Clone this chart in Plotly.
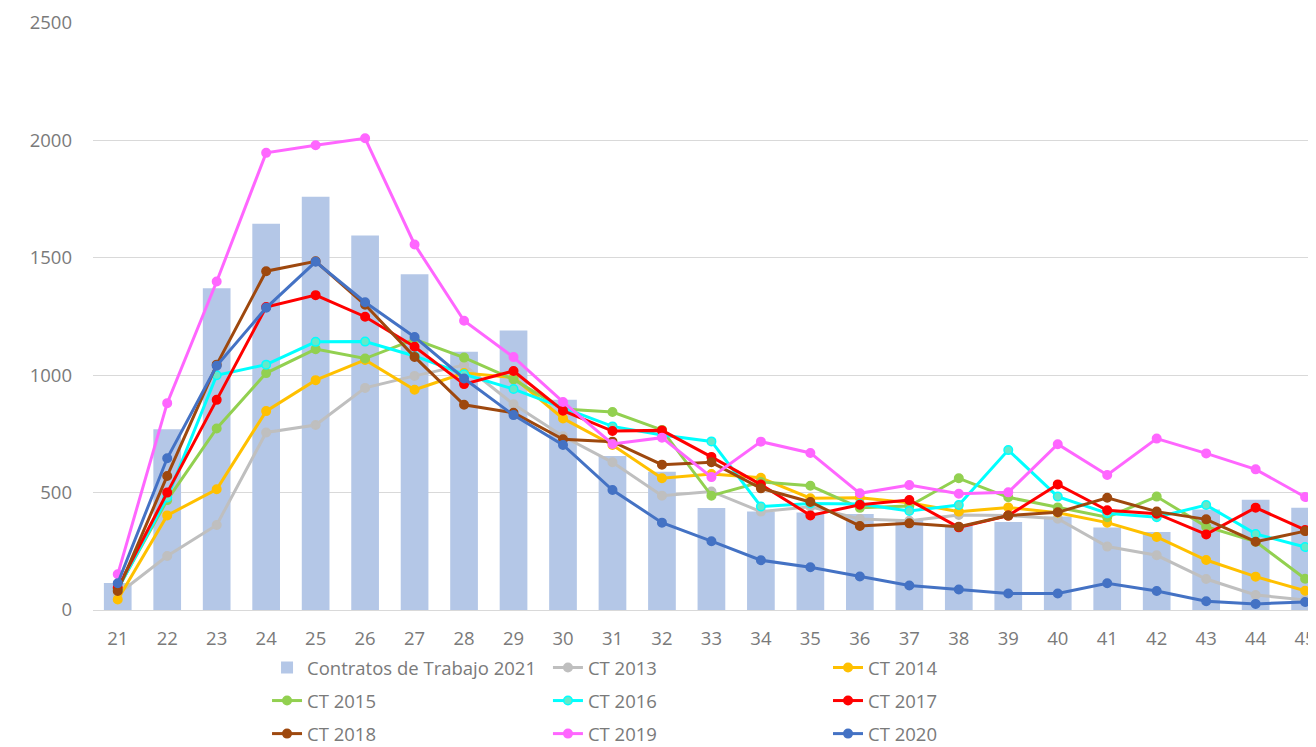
import plotly.graph_objects as go

weeks = [str(w) for w in range(21, 46)]

contratos_2021 = [115, 770, 1370, 1645, 1760, 1595, 1430, 1100, 1190, 895, 656, 589, 434, 419, 415, 409,
                  385, 360, 375, 398, 351, 332, 428, 470, 436]
ct_2013 = [67, 230, 362, 756, 788, 946, 997, 1043, 876, 740, 629, 487, 505, 419, 440, 388,
           380, 405, 402, 389, 270, 233, 132, 64, 43]
ct_2014 = [45, 403, 514, 847, 979, 1065, 938, 1009, 990, 816, 703, 561, 579, 563, 476, 478,
           457, 419, 437, 414, 372, 311, 213, 142, 82]
ct_2015 = [90, 468, 773, 1009, 1111, 1071, 1153, 1075, 982, 856, 843, 767, 487, 545, 529, 435,
           443, 561, 480, 437, 395, 483, 355, 291, 133]
ct_2016 = [88, 479, 1000, 1045, 1142, 1143, 1082, 1004, 941, 860, 782, 745, 718, 441, 454, 451,
           422, 447, 681, 483, 412, 395, 447, 324, 268]
ct_2017 = [95, 500, 895, 1290, 1341, 1249, 1121, 962, 1018, 849, 762, 765, 652, 534, 403, 448,
           468, 352, 402, 535, 425, 410, 322, 436, 341]
ct_2018 = [81, 571, 1045, 1443, 1485, 1300, 1078, 874, 840, 727, 717, 619, 629, 518, 460, 358,
           369, 355, 402, 416, 478, 419, 386, 291, 336]
ct_2019 = [152, 881, 1399, 1947, 1979, 2009, 1557, 1232, 1077, 886, 707, 734, 566, 717, 669, 497,
           532, 495, 501, 706, 575, 730, 667, 599, 481]
ct_2020 = [114, 646, 1040, 1287, 1483, 1311, 1163, 986, 830, 703, 511, 372, 293, 212, 182, 143,
           104, 87, 70, 70, 114, 81, 37, 26, 34]

bar_name = "Contratos de Trabajo 2021"
bar_color = "#B4C7E7"

# name, values, line colour, marker fill, legend column
line_series = [
    ("CT 2013", ct_2013, "#BFBFBF", "#BFBFBF", "legend2"),
    ("CT 2014", ct_2014, "#FFC000", "#FFC000", "legend3"),
    ("CT 2015", ct_2015, "#92D050", "#92D050", "legend"),
    ("CT 2016", ct_2016, "#00FFFF", "#66E8C8", "legend2"),
    ("CT 2017", ct_2017, "#FF0000", "#FF0000", "legend3"),
    ("CT 2018", ct_2018, "#9E480E", "#9E480E", "legend"),
    ("CT 2019", ct_2019, "#FF66FF", "#FF66FF", "legend2"),
    ("CT 2020", ct_2020, "#4472C4", "#4472C4", "legend3"),
]

TEXT_GRAY = "#7A7A7A"

fig = go.Figure()
fig.add_trace(go.Bar(x=weeks, y=contratos_2021, name=bar_name, legendgroup=bar_name,
                     marker_color=bar_color, marker_line_width=0, legend="legend"))
for name, vals, lc, mc, leg in line_series:
    fig.add_trace(go.Scatter(
        x=weeks, y=vals, name=name, legendgroup=name, mode="lines+markers",
        line=dict(color=lc, width=3),
        marker=dict(size=8.5, color=mc, line=dict(color=lc, width=1.5)),
        legend=leg,
    ))

legend_common = dict(
    orientation="v", xanchor="left", y=-0.0664, yanchor="top",
    font=dict(family="Open Sans", size=18.5, color=TEXT_GRAY),
    itemwidth=30, bgcolor="rgba(0,0,0,0)", tracegroupgap=6,
)

fig.update_layout(
    width=1308, height=739,
    margin=dict(l=85, r=0, t=15, b=137, autoexpand=False),
    paper_bgcolor="white", plot_bgcolor="white",
    bargap=0.44,
    font=dict(family="Open Sans", color=TEXT_GRAY, size=17),
    showlegend=True,
    legend=dict(x=0.1423, **legend_common),
    legend2=dict(x=0.3720, **legend_common),
    legend3=dict(x=0.6010, **legend_common),
    xaxis=dict(
        type="category", range=[-0.5, 24.22], showgrid=False, showline=False,
        ticks="", ticklabelstandoff=15,
        tickfont=dict(family="Open Sans", size=18.5, color=TEXT_GRAY),
    ),
    yaxis=dict(
        range=[0, 2500], dtick=500, showgrid=True, gridcolor="#D9D9D9", gridwidth=1,
        zeroline=True, zerolinecolor="#D9D9D9", zerolinewidth=1,
        showline=False, ticks="", ticklabelstandoff=20,
        tickfont=dict(family="Open Sans", size=18.5, color=TEXT_GRAY),
    ),
)

fig.write_html("out.html")
